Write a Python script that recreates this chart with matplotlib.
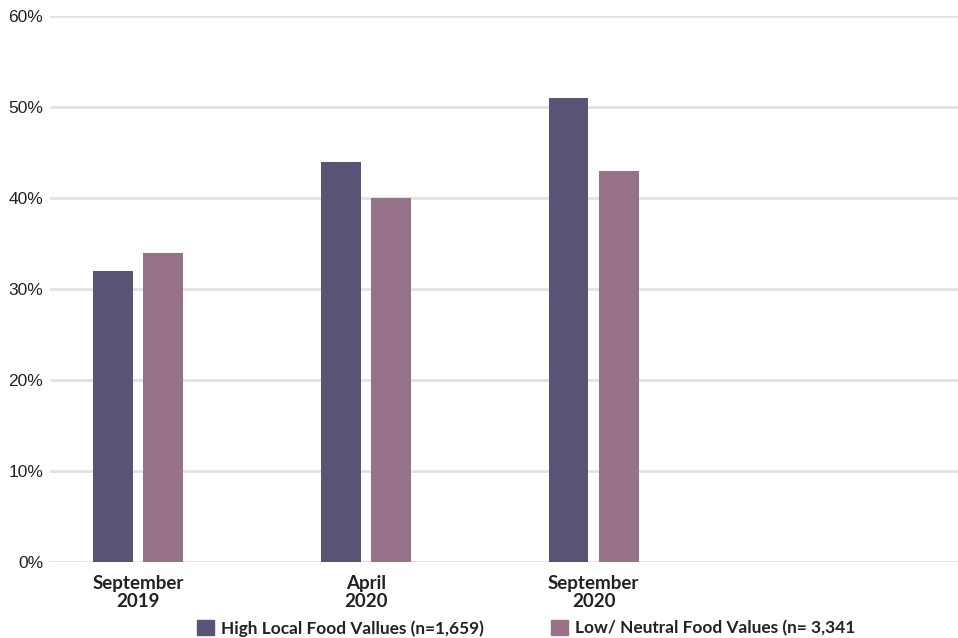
import matplotlib.pyplot as plt
import numpy as np
from matplotlib.patches import Patch

# survey waves and share of respondents per group (%)
waves = ['September\n2019', 'April\n2020', 'September\n2020', '']
high_local = [32, 44, 51]
low_neutral = [34, 40, 43]
series_labels = ['High Local Food Vallues (n=1,659)', 'Low/ Neutral Food Values (n= 3,341']
y_ticks = [0, 10, 20, 30, 40, 50, 60]

col_high = '#5b5376'
col_low = '#977188'

fig = plt.figure(figsize=(9.58, 6.38), dpi=100)
ax = fig.add_axes([50 / 958, 1 - 562 / 638, 1 - 50 / 958, (562 - 16) / 638])

x = np.arange(len(high_local))
w = 0.175
off = 0.11
ax.bar(x - off, high_local, width=w, color=col_high, zorder=3)
ax.bar(x + off, low_neutral, width=w, color=col_low, zorder=3)

ax.set_xlim(-0.386, 3.6)
ax.set_ylim(0, 60)
ax.set_yticks(y_ticks)
ax.set_yticklabels([f'{t}%' for t in y_ticks], fontsize=12.5, color='#222222',
                   family='Liberation Sans')
ax.set_xticks(np.arange(len(waves)))
ax.set_xticklabels(waves, fontsize=13.5, fontweight='bold', color='#222222',
                   family='Lato', linespacing=1.1)
ax.tick_params(axis='both', length=0)
ax.tick_params(axis='y', pad=5)
ax.tick_params(axis='x', pad=9)
ax.grid(axis='y', color='#e2e2e2', linewidth=2, zorder=0)
ax.set_axisbelow(True)
for s in ax.spines.values():
    s.set_visible(False)

handles = [Patch(color=col_high), Patch(color=col_low)]
fig.legend(handles, series_labels, loc='lower left', bbox_to_anchor=(181 / 958, -0.022),
           ncol=2, frameon=False, prop={'family': 'Lato', 'weight': 'bold', 'size': 12.4},
           handlelength=1.0, handleheight=1.0, handletextpad=0.4, columnspacing=3.9,
           labelcolor='#222222')

fig.savefig('out.png', dpi=100)
